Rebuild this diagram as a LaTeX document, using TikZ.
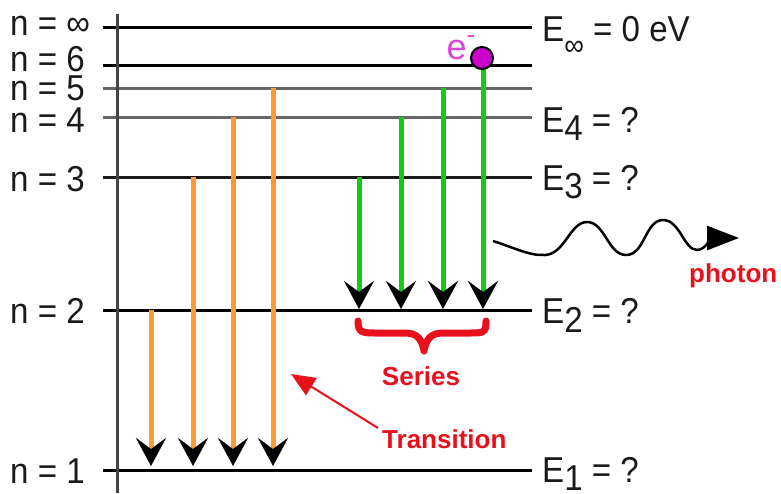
\documentclass[tikz,border=0pt]{standalone}
\usepackage{fontspec}
\setmainfont{Liberation Sans}
\newfontfamily\labfont[FakeStretch=0.92]{Liberation Sans}
\usetikzlibrary{arrows.meta}
\definecolor{orangeT}{HTML}{FF9A33}
\definecolor{greenT}{HTML}{11CC11}
\definecolor{redT}{HTML}{E8101A}
\definecolor{magT}{HTML}{CC00CC}
\definecolor{magL}{HTML}{DD44DD}
\definecolor{grayL}{HTML}{666666}
\definecolor{grayD}{HTML}{444444}
\definecolor{txt}{HTML}{1A1A1A}
\begin{document}
\begin{tikzpicture}[x=1pt,y=-1pt,
  level/.style={line width=3pt},
  lab/.style={anchor=base west, inner sep=0pt, text=txt, font=\labfont\fontsize{36}{40}\selectfont},
  orangearrow/.style={draw=orangeT, line width=5pt, -{Stealth[length=28pt,width=30pt,inset=11pt,color=black]}},
  greenarrow/.style={draw=greenT, line width=5pt, -{Stealth[length=28pt,width=30pt,inset=11pt,color=black]}},
  redlab/.style={text=redT, inner sep=0pt, font=\fontsize{26}{30}\selectfont\bfseries},
]
\useasboundingbox (0,0) rectangle (781,493);

% energy levels
\foreach \n/\y/\c in {inf/27/black, 6/65/black, 5/88/grayL, 4/117/grayL, 3/177/txt, 2/310/black, 1/470/black} {
  \coordinate (L\n) at (103,\y);
  \coordinate (R\n) at (532,\y);
  \draw[level,draw=\c] (L\n) -- (R\n);
}

% vertical axis
\coordinate (axT) at (117,14);
\coordinate (axB) at (117,493);
\draw[line width=3pt, draw=grayD] (axT) -- (axB);

% left labels
\node[lab] (nInf) at (10,35) {n = ∞};
\node[lab] (n6) at (10,71) {n = 6};
\node[lab] (n5) at (10,100) {n = 5};
\node[lab] (n4) at (10,132) {n = 4};
\node[lab] (n3) at (10,191) {n = 3};
\node[lab] (n2) at (10,323) {n = 2};
\node[lab] (n1) at (10,483) {n = 1};

% right labels
\node[lab] (EInf) at (542,41) {E\raisebox{-14pt}{\fontsize{30}{30}\selectfont ∞} = 0 eV};
\node[lab] (E4) at (542,132) {E\raisebox{-8pt}{4} = ?};
\node[lab] (E3) at (542,190) {E\raisebox{-8pt}{3} = ?};
\node[lab] (E2) at (542,323) {E\raisebox{-9pt}{2} = ?};
\node[lab] (E1) at (542,482) {E\raisebox{-8pt}{1} = ?};

% orange transitions to n=1
\foreach \i/\x/\y in {1/151/310, 2/193/177, 3/233/117, 4/273/88} {
  \coordinate (oa\i) at (\x,\y);
  \coordinate (ob\i) at (\x,466);
  \draw[orangearrow] (oa\i) -- (ob\i);
}

% green series to n=2
\foreach \i/\x/\y in {1/359/177, 2/401/117, 3/443/88, 4/483/65} {
  \coordinate (ga\i) at (\x,\y);
  \coordinate (gb\i) at (\x,309);
  \draw[greenarrow] (ga\i) -- (gb\i);
}

% electron
\node[circle, fill=magT, draw=black, line width=2pt, minimum size=22pt, inner sep=0pt] (el) at (482,58) {};
\node[anchor=base west, inner sep=0pt, text=magL, font=\fontsize{36}{40}\selectfont] (elab) at (446.5,59) {e\raisebox{16pt}{\fontsize{26}{26}\selectfont -}};

% photon
\coordinate (ph0) at (493,241);
\coordinate (ph1) at (739,238);
\draw[line width=2.5pt, -{Triangle[length=32pt,width=24pt]}] (ph0)
  .. controls (515,248) and (530,256) .. (545,255)
  .. controls (565,254) and (570,222) .. (587,222)
  .. controls (605,222) and (608,255) .. (626,255)
  .. controls (645,255) and (645,220) .. (663,220)
  .. controls (680,220) and (684,250) .. (697,250)
  .. controls (705,250) and (712,238) .. (ph1);
\node[redlab, anchor=base west] (phl) at (689,282) {photon};

% series brace
\draw[redT, line width=7pt, line cap=round, line join=round]
  (358,321) .. controls (358,333) and (362,333) .. (378,333) -- (405,333)
  .. controls (418,333) and (422,340) .. (424,351)
  .. controls (426,340) and (430,333) .. (443,333) -- (468,333)
  .. controls (484,333) and (486,333) .. (486,321);
\node[redlab, anchor=base] (ser) at (421,385) {Series};

% transition label
\node[redlab, anchor=base west] (tra) at (382,448) {Transition};
\coordinate (taS) at (378,428);
\coordinate (taT) at (291,374);
\draw[redT, line width=2pt, -{Triangle[length=24pt,width=20pt]}] (taS) -- (taT);
\end{tikzpicture}
\end{document}
